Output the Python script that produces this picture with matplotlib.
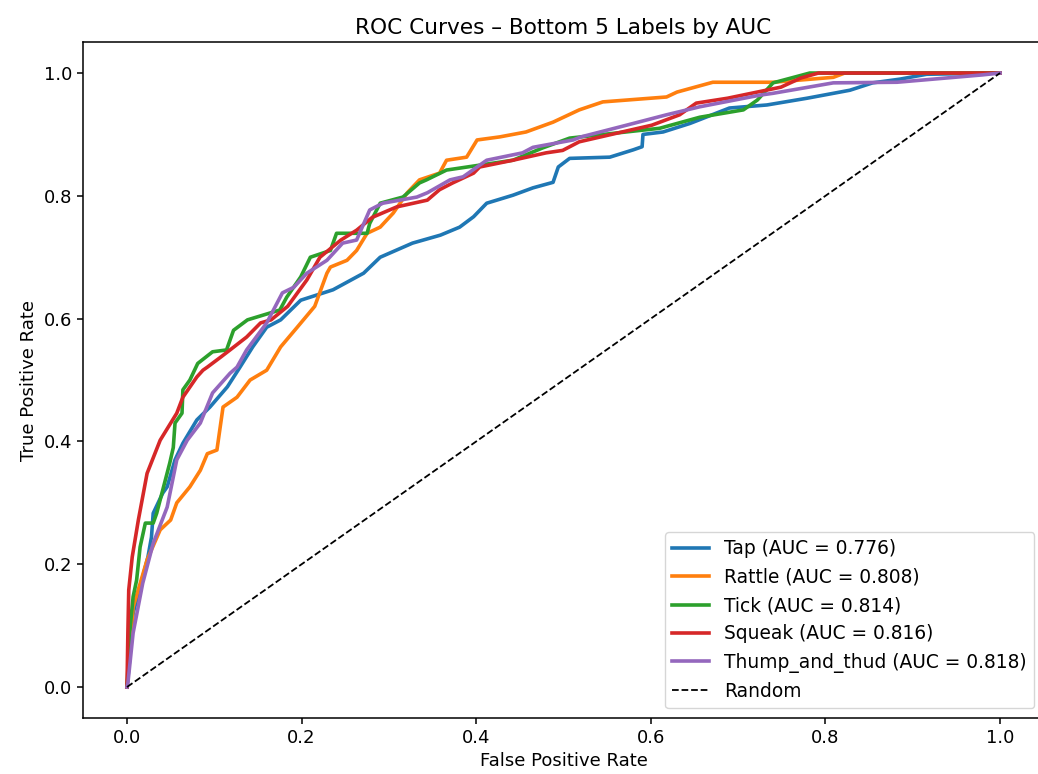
import matplotlib
matplotlib.use("Agg")
import matplotlib.pyplot as plt

plt.rcParams['font.size'] = 13

labels = ["Tap", "Rattle", "Tick", "Squeak", "Thump_and_thud"]
aucs = [0.776, 0.808, 0.814, 0.816, 0.818]

# points (fpr, tpr)
tap_fpr = [0, 0.003, 0.007, 0.015, 0.024, 0.028, 0.030, 0.041, 0.046, 0.055, 0.064, 0.080,
           0.095, 0.115, 0.129, 0.144, 0.160, 0.176, 0.199, 0.236, 0.271, 0.290, 0.327,
           0.359, 0.381, 0.397, 0.412, 0.442, 0.465, 0.488, 0.494, 0.507, 0.553, 0.580,
           0.590, 0.591, 0.614, 0.645, 0.690, 0.733, 0.779, 0.828, 0.854, 0.885, 0.916, 1.0]
tap_tpr = [0, 0.044, 0.120, 0.163, 0.212, 0.244, 0.283, 0.316, 0.326, 0.370, 0.397, 0.435,
           0.456, 0.489, 0.520, 0.554, 0.586, 0.598, 0.630, 0.647, 0.674, 0.700, 0.723,
           0.736, 0.749, 0.766, 0.788, 0.801, 0.813, 0.822, 0.847, 0.861, 0.863, 0.875,
           0.880, 0.900, 0.904, 0.918, 0.943, 0.948, 0.959, 0.972, 0.984, 0.990, 0.998, 1.0]

rattle_fpr = [0, 0.007, 0.023, 0.038, 0.050, 0.057, 0.072, 0.084, 0.092, 0.103, 0.110, 0.126,
              0.141, 0.160, 0.176, 0.195, 0.215, 0.229, 0.233, 0.252, 0.263, 0.275, 0.290,
              0.305, 0.321, 0.335, 0.358, 0.366, 0.389, 0.401, 0.427, 0.457, 0.488, 0.518,
              0.545, 0.618, 0.630, 0.671, 0.740, 0.809, 0.822, 1.0]
rattle_tpr = [0, 0.130, 0.207, 0.256, 0.272, 0.300, 0.326, 0.353, 0.380, 0.386, 0.456, 0.472,
              0.500, 0.516, 0.554, 0.586, 0.620, 0.674, 0.684, 0.695, 0.711, 0.739, 0.749,
              0.772, 0.805, 0.826, 0.837, 0.858, 0.863, 0.891, 0.896, 0.904, 0.920, 0.940,
              0.953, 0.961, 0.969, 0.985, 0.985, 0.993, 1.0, 1.0]

tick_fpr = [0, 0.003, 0.007, 0.011, 0.015, 0.021, 0.030, 0.034, 0.049, 0.053, 0.055, 0.063,
            0.064, 0.072, 0.081, 0.098, 0.114, 0.122, 0.138, 0.175, 0.183, 0.199, 0.210,
            0.233, 0.240, 0.275, 0.278, 0.290, 0.316, 0.335, 0.343, 0.366, 0.442, 0.476,
            0.507, 0.610, 0.656, 0.706, 0.722, 0.740, 0.782, 1.0]
tick_tpr = [0, 0.088, 0.147, 0.174, 0.228, 0.267, 0.267, 0.283, 0.365, 0.390, 0.430, 0.446,
            0.484, 0.500, 0.527, 0.546, 0.549, 0.581, 0.598, 0.614, 0.635, 0.668, 0.700,
            0.711, 0.739, 0.739, 0.755, 0.788, 0.798, 0.821, 0.826, 0.842, 0.858, 0.878,
            0.894, 0.910, 0.928, 0.940, 0.956, 0.984, 1.0, 1.0]

squeak_fpr = [0, 0.001, 0.002, 0.006, 0.013, 0.023, 0.038, 0.057, 0.064, 0.080, 0.087, 0.092,
              0.107, 0.118, 0.137, 0.153, 0.165, 0.184, 0.206, 0.221, 0.245, 0.263, 0.281,
              0.309, 0.344, 0.358, 0.373, 0.397, 0.404, 0.442, 0.480, 0.499, 0.518, 0.567,
              0.601, 0.633, 0.652, 0.688, 0.749, 0.772, 0.792, 0.807, 1.0]
squeak_tpr = [0, 0.088, 0.158, 0.212, 0.272, 0.348, 0.402, 0.446, 0.472, 0.505, 0.516, 0.521,
              0.537, 0.549, 0.570, 0.593, 0.598, 0.620, 0.663, 0.700, 0.728, 0.744, 0.765,
              0.782, 0.793, 0.810, 0.821, 0.837, 0.847, 0.858, 0.870, 0.874, 0.888, 0.904,
              0.915, 0.932, 0.951, 0.959, 0.977, 0.992, 1.0, 1.0, 1.0]

thump_fpr = [0, 0.001, 0.007, 0.018, 0.030, 0.046, 0.057, 0.069, 0.084, 0.098, 0.118, 0.126,
             0.137, 0.160, 0.178, 0.191, 0.206, 0.229, 0.247, 0.263, 0.278, 0.293, 0.332,
             0.344, 0.370, 0.385, 0.412, 0.453, 0.465, 0.511, 0.520, 0.572, 0.618, 0.656,
             0.725, 0.740, 0.809, 0.882, 0.980, 1.0]
thump_tpr = [0, 0.006, 0.088, 0.169, 0.234, 0.293, 0.370, 0.402, 0.430, 0.479, 0.511, 0.521,
             0.549, 0.593, 0.642, 0.651, 0.674, 0.695, 0.723, 0.728, 0.777, 0.788, 0.798,
             0.805, 0.826, 0.831, 0.858, 0.870, 0.879, 0.891, 0.896, 0.915, 0.932, 0.945,
             0.964, 0.967, 0.984, 0.985, 0.997, 1.0]

curves = [(tap_fpr, tap_tpr), (rattle_fpr, rattle_tpr), (tick_fpr, tick_tpr),
          (squeak_fpr, squeak_tpr), (thump_fpr, thump_tpr)]

fig = plt.figure(figsize=(10.38, 7.74), dpi=100)
ax = fig.add_axes([0.0803, 0.0727, 0.9252, 0.8726])

for (fpr, tpr), name, auc in zip(curves, labels, aucs):
    ax.plot(fpr, tpr, lw=2.6, label=f"{name} (AUC = {auc:.3f})")

ax.plot([0, 1], [0, 1], "k--", lw=1.3, label="Random")
ax.set_xlabel("False Positive Rate")
ax.set_ylabel("True Positive Rate")
ax.set_title("ROC Curves \u2013 Bottom 5 Labels by AUC", fontsize=15.6)
ax.tick_params(length=4.5, width=1.1)
for s in ax.spines.values():
    s.set_linewidth(1.1)
ax.legend(loc="lower right", fontsize=13.4)

fig.savefig("out.png", dpi=100)
